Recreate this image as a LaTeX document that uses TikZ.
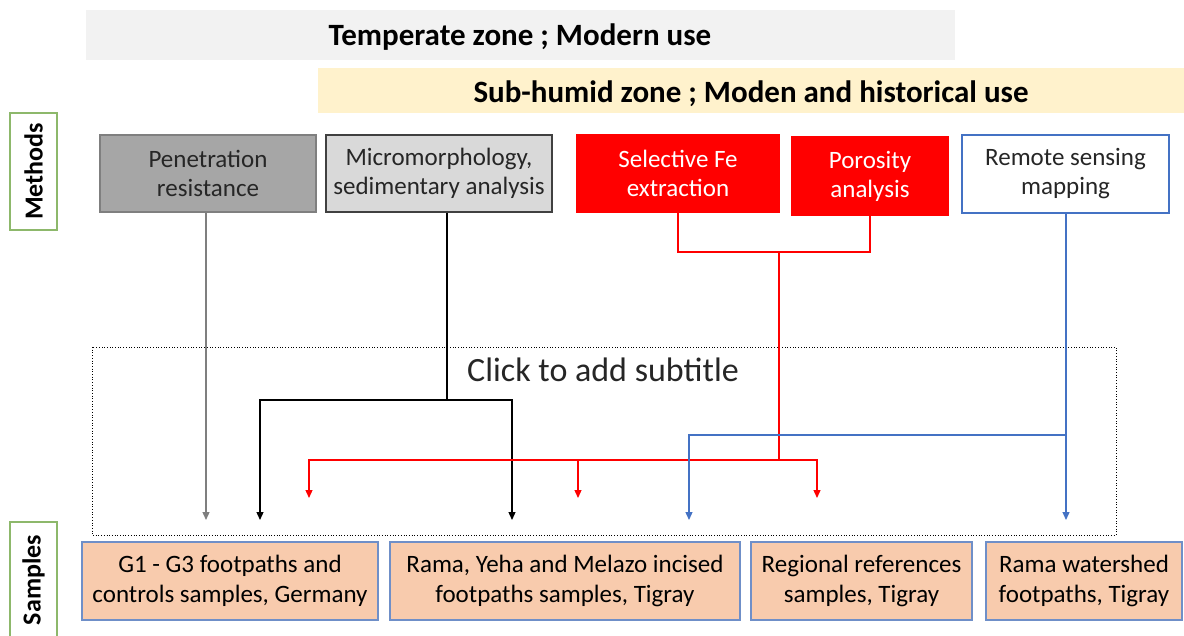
\documentclass[tikz,border=0pt]{standalone}
\usepackage{fontspec}
\setmainfont{Carlito}
\usetikzlibrary{arrows.meta,calc}
\definecolor{bandgray}{HTML}{F2F2F2}
\definecolor{bandyellow}{HTML}{FFF2CC}
\definecolor{pengray}{HTML}{A6A6A6}
\definecolor{penborder}{HTML}{7F7F7F}
\definecolor{micgray}{HTML}{D9D9D9}
\definecolor{micborder}{HTML}{404040}
\definecolor{redbox}{HTML}{FF0000}
\definecolor{bluebox}{HTML}{4472C4}
\definecolor{sampfill}{HTML}{F8CBAD}
\definecolor{sampborder}{HTML}{6F8FC8}
\definecolor{labgreen}{HTML}{8DB86B}
\tikzset{
  methbox/.style={draw, line width=1.3pt, align=center, inner sep=0pt, font=\fontsize{25}{29}\selectfont},
  sampbox/.style={draw=sampborder, fill=sampfill, line width=1.3pt, align=center, inner sep=0pt, minimum height=78pt, font=\fontsize{25}{30}\selectfont},
  sidelab/.style={draw=labgreen, line width=1.3pt, rotate=90, inner sep=0pt, font=\bfseries\fontsize{26}{28}\selectfont},
  band/.style={inner sep=0pt, font=\bfseries\fontsize{31}{34}\selectfont},
  conn/.style={line width=1.3pt},
  tip/.style={-{Triangle[length=8pt,width=7pt]}}
}
\begin{document}
\begin{tikzpicture}[x=1pt,y=-1pt]
\useasboundingbox (0,0) rectangle (1184,635);
% bands
\fill[bandgray] (86,10) rectangle (955,60);
\node[band] (temp) at (520,37) {Temperate zone ; Modern use};
\fill[bandyellow] (318,68) rectangle (1184,113);
\node[band] (sub) at (751,94) {Sub-humid zone ; Moden and historical use};
% side labels
\node[sidelab, minimum width=117pt, minimum height=47pt] (meth) at (33.5,171.5) {Methods};
\node[sidelab, minimum width=116pt, minimum height=47pt] (samp) at (33.5,580) {Samples};
% methods boxes
\node[methbox, draw=penborder, fill=pengray, minimum width=216pt, minimum height=77pt, text=black!85] (pen) at (208,173.5) {Penetration\\resistance};
\node[methbox, draw=micborder, fill=micgray, minimum width=226pt, minimum height=77pt, text=black!85] (mic) at (439,173.5) {Micromorphology,\\sedimentary analysis};
\node[methbox, draw=redbox, fill=redbox, text=white, minimum width=202pt, minimum height=77pt] (fe) at (678,173.5) {Selective Fe\\extraction};
\node[methbox, draw=redbox, fill=redbox, text=white, minimum width=156pt, minimum height=78pt] (por) at (870,176) {Porosity\\analysis};
\node[methbox, draw=bluebox, fill=white, text=black!85, minimum width=207pt, minimum height=78pt] (rem) at (1065.5,174) {Remote sensing\\mapping};
% subtitle placeholder
\draw[dotted, line width=0.7pt] (92,347) rectangle (1116,535);
\node[inner sep=0pt, font=\fontsize{34}{38}\selectfont, text=black!85] (click) at (603,370) {Click to add subtitle};
% sample boxes
\node[sampbox, minimum width=296pt] (s1) at (230,581) {G1 - G3 footpaths and\\controls samples, Germany};
\node[sampbox, minimum width=350pt] (s2) at (565,581) {Rama, Yeha and Melazo incised\\footpaths samples, Tigray};
\node[sampbox, minimum width=221pt] (s3) at (861.5,581) {Regional references\\samples, Tigray};
\node[sampbox, minimum width=196pt] (s4) at (1084,581) {Rama watershed\\footpaths, Tigray};
% coordinates
\coordinate (g1) at (206,520);
\coordinate (mj) at (447,400);
\coordinate (k1) at (260,520);
\coordinate (k2) at (512,520);
\coordinate (rj) at (779,252);
\coordinate (rk) at (779,460);
\coordinate (r1) at (309,498);
\coordinate (r2) at (578,498);
\coordinate (r3) at (817,498);
\coordinate (bj) at (1066,435);
\coordinate (b1) at (689,520);
\coordinate (b2) at (1066,520);
% gray
\draw[conn, tip, penborder] (pen.south -| g1) -- (g1);
% black
\draw[conn, black] (mic.south -| mj) -- (mj);
\draw[conn, tip, black] (mj) -| (k1);
\draw[conn, tip, black] (mj) -| (k2);
% red
\draw[conn, redbox] (fe.south) -- (fe.south |- rj) -- (por.south |- rj) -- (por.south);
\draw[conn, redbox] (rj) -- (rk);
\draw[conn, tip, redbox] (rk) -| (r1);
\draw[conn, tip, redbox] (rk) -| (r3);
\draw[conn, tip, redbox] (r2 |- rk) -- (r2);
% blue
\draw[conn, tip, bluebox] (rem.south -| b2) -- (b2);
\draw[conn, tip, bluebox] (bj) -| (b1);
\end{tikzpicture}
\end{document}
